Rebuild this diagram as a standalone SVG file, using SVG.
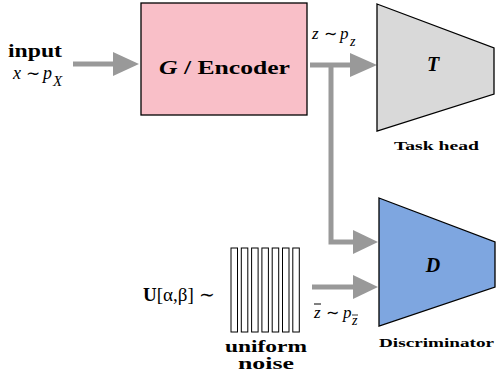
<svg xmlns="http://www.w3.org/2000/svg" width="496" height="372" viewBox="0 0 496 372">
  <style>
    .t { font-family: "Liberation Serif", serif; fill: #000; }
    .b { font-weight: bold; }
    .i { font-style: italic; }
    .flow { fill: none; stroke: #999999; stroke-width: 5; }
    .head { fill: #999999; }
    .shape { stroke: #000; stroke-width: 1.3; }
    .bar { fill: #fff; stroke: #000; stroke-width: 1; }
  </style>

  <!-- connectors -->
  <g id="connectors">
    <!-- input to encoder -->
    <line class="flow" x1="73" y1="64" x2="114" y2="64"/>
    <polygon class="head" points="113,52 139,64 113,76"/>
    <!-- encoder to task head -->
    <line class="flow" x1="310" y1="65" x2="352" y2="65"/>
    <polygon class="head" points="350,53 377,65 350,77"/>
    <!-- branch down to discriminator -->
    <polyline class="flow" points="331,65 331,242 355,242"/>
    <polygon class="head" points="353,230 378,242 353,254"/>
    <!-- noise to discriminator -->
    <line class="flow" x1="312" y1="287" x2="355" y2="287"/>
    <polygon class="head" points="353,275 378,287 353,299"/>
  </g>

  <!-- input label -->
  <g id="input">
    <text class="t b" x="8" y="57" font-size="18" textLength="54" lengthAdjust="spacingAndGlyphs">input</text>
    <text class="t i" x="13" y="79" font-size="18">x</text>
    <text class="t" x="26" y="79" font-size="17">∼</text>
    <text class="t i" x="43" y="79" font-size="18">p</text>
    <text class="t i" x="53" y="86" font-size="15">X</text>
  </g>

  <!-- encoder -->
  <g id="encoder">
    <rect class="shape" x="141" y="3" width="166" height="112" fill="#f9bfc8"/>
    <text class="t b" x="159" y="74" font-size="19" textLength="131" lengthAdjust="spacingAndGlyphs"><tspan class="i">G</tspan> / Encoder</text>
  </g>

  <!-- latent label -->
  <g id="latent">
    <text class="t i" x="312" y="39" font-size="17">z</text>
    <text class="t" x="324" y="39" font-size="16">∼</text>
    <text class="t i" x="340" y="39" font-size="17">p</text>
    <text class="t i" x="350" y="46" font-size="14">z</text>
  </g>

  <!-- task head -->
  <g id="task-head">
    <polygon class="shape" points="377,4 494,48 494,94 377,131" fill="#d9d9d9"/>
    <text class="t b i" x="433" y="71" font-size="20" text-anchor="middle">T</text>
    <text class="t b" x="394" y="150" font-size="13" textLength="85" lengthAdjust="spacingAndGlyphs">Task head</text>
  </g>

  <!-- discriminator -->
  <g id="discriminator">
    <polygon class="shape" points="379,198 495,242 495,287 379,326" fill="#7ea6e0"/>
    <text class="t b i" x="433" y="272" font-size="20" text-anchor="middle">D</text>
    <text class="t b" x="379" y="347" font-size="13" textLength="115" lengthAdjust="spacingAndGlyphs">Discriminator</text>
  </g>

  <!-- uniform noise -->
  <g id="noise">
    <text class="t" x="143" y="301" font-size="19"><tspan class="b">U</tspan>[α,β] ∼</text>
    <rect class="bar" x="231" y="248" width="6.5" height="84"/>
    <rect class="bar" x="241.3" y="248" width="6.5" height="84"/>
    <rect class="bar" x="251.6" y="248" width="6.5" height="84"/>
    <rect class="bar" x="261.9" y="248" width="6.5" height="84"/>
    <rect class="bar" x="272.2" y="248" width="6.5" height="84"/>
    <rect class="bar" x="282.5" y="248" width="6.5" height="84"/>
    <rect class="bar" x="292.8" y="248" width="6.5" height="84"/>
    <text class="t b" x="225" y="352" font-size="16" textLength="82" lengthAdjust="spacingAndGlyphs">uniform</text>
    <text class="t b" x="238" y="369" font-size="16" textLength="56" lengthAdjust="spacingAndGlyphs">noise</text>
  </g>

  <!-- noise sample label -->
  <g id="noise-sample">
    <text class="t i" x="314" y="318" font-size="17">z</text>
    <line x1="314" y1="304" x2="321" y2="304" stroke="#000" stroke-width="1"/>
    <text class="t" x="326" y="318" font-size="16">∼</text>
    <text class="t i" x="343" y="318" font-size="17">p</text>
    <text class="t i" x="352" y="325" font-size="14">z</text>
    <line x1="352" y1="315" x2="358" y2="315" stroke="#000" stroke-width="0.8"/>
  </g>
</svg>
